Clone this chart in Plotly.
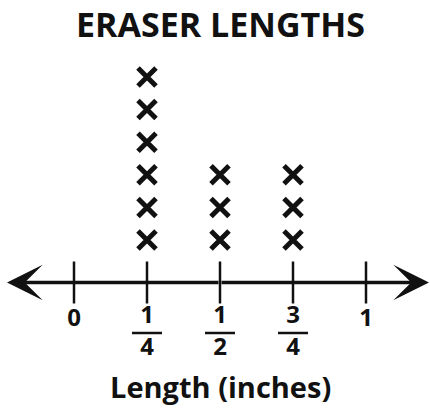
import plotly.graph_objects as go

# ---- data ----
lengths = [0.25, 0.5, 0.75]          # inches
counts = [6, 3, 3]                   # number of erasers (X marks)
tick_vals = [0, 0.25, 0.5, 0.75, 1]
whole_ticks = [0, 1]
whole_labels = ["0", "1"]
frac_ticks = [0.25, 0.5, 0.75]
frac_num = ["1", "1", "3"]
frac_den = ["4", "2", "4"]
title_text = "ERASER LENGTHS"
axis_title = "Length (inches)"

FONT = "Open Sans"
BLACK = "#111111"

# pixel-to-unit helpers for layout (y units = stack count)
def ky(px):
    return (272.6 - px) / 32.6

def kx(px):
    return (px - 74) / 292.0

axis_y = ky(282.5)

fig = go.Figure()

# X marks
xs, ys = [], []
for L, c in zip(lengths, counts):
    for k in range(1, c + 1):
        xs.append(L)
        ys.append(k)
fig.add_trace(go.Scatter(
    x=xs, y=ys, mode="markers",
    marker=dict(symbol="x-thin", size=18, line=dict(width=5, color=BLACK)),
    hoverinfo="skip", showlegend=False))

# tick marks crossing the number line
fig.add_trace(go.Scatter(
    x=tick_vals, y=[axis_y] * len(tick_vals), mode="markers",
    marker=dict(symbol="line-ns", size=30, line=dict(width=2.5, color=BLACK)),
    hoverinfo="skip", showlegend=False))

# whole-number labels
fig.add_trace(go.Scatter(
    x=whole_ticks, y=[ky(320)] * len(whole_ticks), mode="text", text=whole_labels,
    textposition="middle center",
    textfont=dict(family=FONT, size=24, color=BLACK, weight="bold"),
    hoverinfo="skip", showlegend=False))

# fraction numerators and denominators
fig.add_trace(go.Scatter(
    x=frac_ticks, y=[ky(317)] * len(frac_ticks), mode="text", text=frac_num,
    textposition="middle center",
    textfont=dict(family=FONT, size=24, color=BLACK, weight="bold"),
    hoverinfo="skip", showlegend=False))
fig.add_trace(go.Scatter(
    x=frac_ticks, y=[ky(349)] * len(frac_ticks), mode="text", text=frac_den,
    textposition="middle center",
    textfont=dict(family=FONT, size=24, color=BLACK, weight="bold"),
    hoverinfo="skip", showlegend=False))

# fraction bars
half_w = 15 / 292.0
for v in frac_ticks:
    fig.add_shape(type="line", xref="x", yref="y",
                  x0=v - half_w, x1=v + half_w, y0=ky(333), y1=ky(333),
                  line=dict(color=BLACK, width=2.5))

# number line with arrowheads at both ends
for tip in [kx(7), kx(429)]:
    fig.add_annotation(x=tip, y=axis_y, ax=0.5, ay=axis_y,
                       xref="x", yref="y", axref="x", ayref="y",
                       text="", showarrow=True, arrowhead=3, arrowsize=1.7,
                       arrowwidth=3.5, arrowcolor=BLACK, standoff=0)

# title and axis title
fig.add_annotation(x=0.5, y=ky(23.5), xref="x", yref="y", text=f"<b>{title_text}</b>",
                   showarrow=False, font=dict(family=FONT, size=34, color=BLACK),
                   xanchor="center", yanchor="middle")
fig.add_annotation(x=0.5, y=ky(386), xref="x", yref="y", text=f"<b>{axis_title}</b>",
                   showarrow=False, font=dict(family=FONT, size=29, color=BLACK),
                   xanchor="center", yanchor="middle")

fig.update_layout(
    width=430, height=408,
    margin=dict(l=0, r=0, t=0, b=0),
    paper_bgcolor="white", plot_bgcolor="white",
    xaxis=dict(range=[kx(0), kx(430)], visible=False, fixedrange=True),
    yaxis=dict(range=[ky(408), ky(0)], visible=False, fixedrange=True),
    showlegend=False,
)

fig.write_html("out.html", config={"displayModeBar": False},
               post_script="document.body.style.margin='0';document.body.style.overflow='hidden';")
